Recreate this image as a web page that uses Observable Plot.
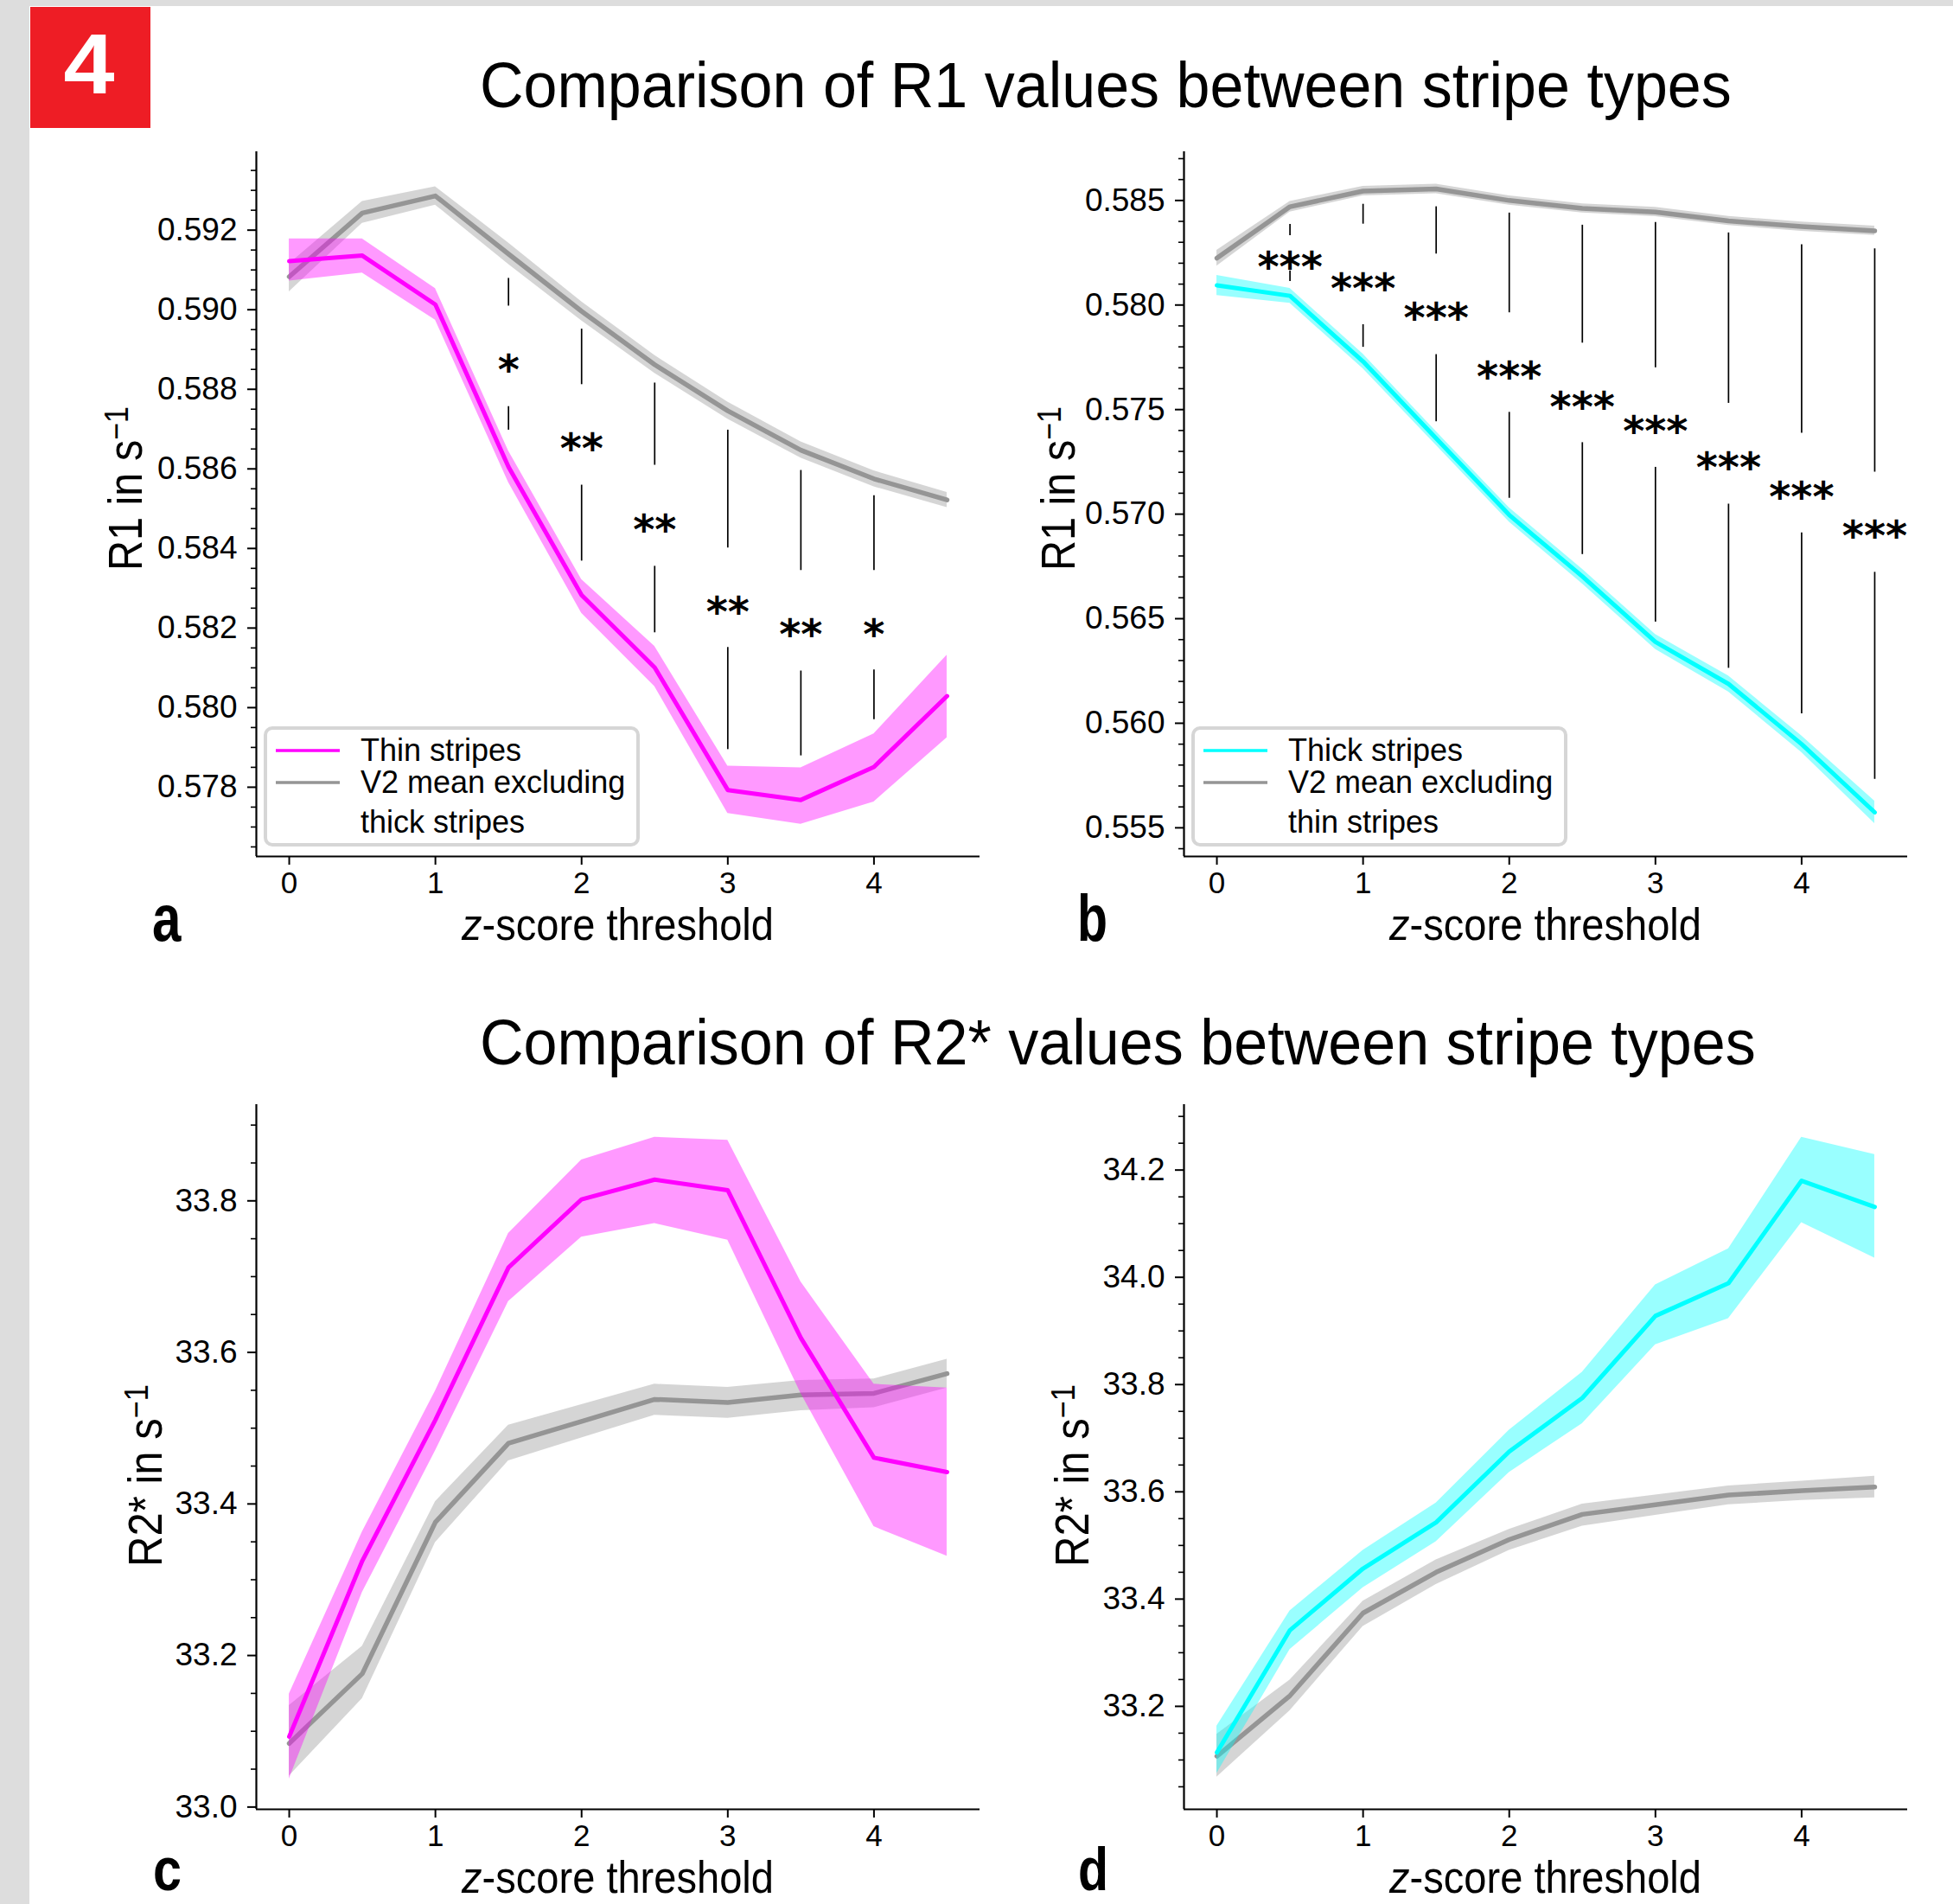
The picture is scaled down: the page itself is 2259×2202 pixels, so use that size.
<!DOCTYPE html>
<html><head><meta charset="utf-8">
<script src="https://cdn.jsdelivr.net/npm/d3@7"></script>
<script src="https://cdn.jsdelivr.net/npm/@observablehq/plot@0.6"></script>
<style>
html,body{margin:0;padding:0;background:#fff;}
#page{position:relative;width:2259px;height:2202px;overflow:hidden;background:#fff;}
.panel{position:absolute;}
.panel svg{max-width:none;}
#overlay{position:absolute;left:0;top:0;pointer-events:none;}
</style></head><body><div id="page"></div>
<script>
// ---------- data ----------
const zs = [0, 0.5, 1, 1.5, 2, 2.5, 3, 3.5, 4, 4.5];
const xTicks = [0, 1, 2, 3, 4];

// Panel a: R1, thin stripes vs V2 mean excluding thick stripes
const aThin   = [0.59122, 0.59136, 0.59013, 0.58605, 0.58283, 0.58101, 0.57793, 0.57768, 0.57851, 0.58029];
const aThinLo = [0.59072, 0.59092, 0.58974, 0.58566, 0.58237, 0.58053, 0.57734, 0.57707, 0.57763, 0.57924];
const aThinHi = [0.59178, 0.59178, 0.59053, 0.58645, 0.58322, 0.58154, 0.57853, 0.57849, 0.57934, 0.58132];
const aGray   = [0.59083, 0.59243, 0.59286, 0.59140, 0.58996, 0.58862, 0.58746, 0.58647, 0.58575, 0.58522];
const aGrayLo = [0.59045, 0.59217, 0.59263, 0.59114, 0.58972, 0.58840, 0.58725, 0.58627, 0.58555, 0.58503];
const aGrayHi = [0.59115, 0.59272, 0.59309, 0.59168, 0.59020, 0.58885, 0.58768, 0.58668, 0.58595, 0.58541];
const aSigZ      = [1.5, 2, 2.5, 3, 3.5, 4];
const aSigTop    = [0.590789, 0.589513, 0.588158, 0.586974, 0.585961, 0.585329];
const aSigGapTop = [0.590092, 0.588118, 0.586092, 0.584013, 0.583447, 0.583447];
const aSigGapBot = [0.587566, 0.585592, 0.583553, 0.581513, 0.580921, 0.580947];
const aSigBottom = [0.586974, 0.583684, 0.581882, 0.578947, 0.578789, 0.579697];
const aSigLabel  = ["*", "**", "**", "**", "**", "*"];
const aYTicks = [0.578, 0.580, 0.582, 0.584, 0.586, 0.588, 0.590, 0.592];

// Panel b: R1, thick stripes vs V2 mean excluding thin stripes
const bThick   = [0.58094, 0.58044, 0.57730, 0.57362, 0.56996, 0.56702, 0.56389, 0.56188, 0.55900, 0.55574];
const bThickLo = [0.58046, 0.58008, 0.57695, 0.57329, 0.56962, 0.56667, 0.56353, 0.56150, 0.55860, 0.55520];
const bThickHi = [0.58142, 0.58080, 0.57765, 0.57395, 0.57030, 0.56737, 0.56425, 0.56226, 0.55940, 0.55628];
const bGray    = [0.58224, 0.58470, 0.58545, 0.58555, 0.58500, 0.58462, 0.58445, 0.58402, 0.58375, 0.58355];
const bGrayLo  = [0.58186, 0.58445, 0.58522, 0.58532, 0.58478, 0.58440, 0.58423, 0.58380, 0.58353, 0.58333];
const bGrayHi  = [0.58262, 0.58495, 0.58568, 0.58578, 0.58522, 0.58484, 0.58467, 0.58424, 0.58397, 0.58377];
const bSigZ      = [0.5, 1, 1.5, 2, 2.5, 3, 3.5, 4, 4.5];
const bSigTop    = [0.58386, 0.58482, 0.58470, 0.58440, 0.58382, 0.58395, 0.58345, 0.58289, 0.58269];
const bSigGapTop = [0.58332, 0.58387, 0.58244, 0.57963, 0.57818, 0.57700, 0.57530, 0.57387, 0.57201];
const bSigGapBot = [0.58163, 0.57906, 0.57763, 0.57487, 0.57342, 0.57224, 0.57048, 0.56910, 0.56722];
const bSigBottom = [0.58113, 0.57798, 0.57442, 0.57076, 0.56807, 0.56484, 0.56263, 0.56045, 0.55732];
const bSigLabel  = ["***", "***", "***", "***", "***", "***", "***", "***", "***"];
const bYTicks = [0.555, 0.560, 0.565, 0.570, 0.575, 0.580, 0.585];

// Panel c: R2*, thin stripes vs V2 mean excluding thick stripes
const cThin   = [33.093, 33.325, 33.511, 33.712, 33.802, 33.828, 33.814, 33.619, 33.461, 33.442];
const cThinLo = [33.037, 33.283, 33.470, 33.667, 33.752, 33.770, 33.748, 33.546, 33.370, 33.331];
const cThinHi = [33.149, 33.363, 33.549, 33.757, 33.854, 33.884, 33.880, 33.693, 33.558, 33.553];
const cGray   = [33.084, 33.176, 33.376, 33.480, 33.509, 33.538, 33.534, 33.544, 33.546, 33.572];
const cGrayLo = [33.041, 33.143, 33.349, 33.457, 33.487, 33.517, 33.513, 33.523, 33.527, 33.553];
const cGrayHi = [33.134, 33.212, 33.403, 33.504, 33.531, 33.558, 33.554, 33.563, 33.565, 33.591];
const cYTicks = [33.0, 33.2, 33.4, 33.6, 33.8];

// Panel d: R2*, thick stripes vs V2 mean excluding thin stripes
const dThick   = [33.114, 33.342, 33.457, 33.543, 33.675, 33.775, 33.928, 33.989, 34.180, 34.131];
const dThickLo = [33.075, 33.306, 33.421, 33.507, 33.636, 33.727, 33.874, 33.923, 34.102, 34.036];
const dThickHi = [33.163, 33.378, 33.491, 33.579, 33.715, 33.823, 33.986, 34.053, 34.261, 34.229];
const dGray    = [33.107, 33.220, 33.374, 33.450, 33.511, 33.558, 33.576, 33.594, 33.602, 33.609];
const dGrayLo  = [33.068, 33.192, 33.349, 33.427, 33.491, 33.536, 33.556, 33.576, 33.584, 33.589];
const dGrayHi  = [33.148, 33.249, 33.396, 33.473, 33.530, 33.577, 33.594, 33.611, 33.620, 33.629];
const dYTicks = [33.2, 33.4, 33.6, 33.8, 34.0, 34.2];

// ---------- helpers ----------
const FONT = '"Liberation Sans", Arial, Helvetica, sans-serif';
const MAGENTA = "#ff00ff", CYAN = "#00ffff", GRAY = "#959595";
const page = document.getElementById("page");

function rowsOf(mean, lo, hi, gray, gLo, gHi) {
  return zs.map((z, i) => ({z, mean: mean[i], lo: lo[i], hi: hi[i], gray: gray[i], gLo: gLo[i], gHi: gHi[i]}));
}
function sigOf(z, top, gt, gb, bot, lab) {
  return z.map((v, i) => ({z: v, top: top[i], gt: gt[i], gb: gb[i], bot: bot[i], label: lab[i], mid: (gt[i] + gb[i]) / 2}));
}

function makePanel(cfg) {
  const {L, T, R, B, yDomain, majors, minorStep, fmt, color, rows, sig} = cfg;
  const mL = 150, mR = 70, mT = 30, mB = 60;
  const width = R - L + mL + mR, height = B - T + mT + mB;
  const k0 = Math.ceil(yDomain[0] / minorStep - 1e-9), k1 = Math.floor(yDomain[1] / minorStep + 1e-9);
  const minors = d3.range(k0, k1 + 1).map(k => +(k * minorStep).toFixed(6))
    .filter(v => !majors.some(m => Math.abs(m - v) < minorStep / 10));
  const xDomain = [-0.225, 4.725];
  const marks = [
    Plot.areaY(rows, {x: "z", y1: "gLo", y2: "gHi", fill: "#808080", fillOpacity: 0.33}),
    Plot.line(rows, {x: "z", y: "gray", stroke: GRAY, strokeWidth: 5.5}),
    Plot.areaY(rows, {x: "z", y1: "lo", y2: "hi", fill: color, fillOpacity: 0.4}),
    Plot.line(rows, {x: "z", y: "mean", stroke: color, strokeWidth: 5})
  ];
  if (sig) {
    marks.push(
      Plot.ruleX(sig, {x: "z", y1: "top", y2: "gt", stroke: "black", strokeWidth: 1.7}),
      Plot.ruleX(sig, {x: "z", y1: "gb", y2: "bot", stroke: "black", strokeWidth: 1.7}),
      Plot.text(sig, {x: "z", y: "mid", text: "label", fontFamily: '"DejaVu Sans", sans-serif', fontWeight: "bold", fontSize: 48, dy: 17, fill: "black"})
    );
  }
  marks.push(
    Plot.ruleX([xDomain[0]], {stroke: "black", strokeWidth: 2.2}),
    Plot.ruleY([yDomain[0]], {stroke: "black", strokeWidth: 2.2}),
    Plot.axisY(majors, {tickSize: 10, tickPadding: 12, tickFormat: fmt, strokeWidth: 2, label: null, fontSize: 37}),
    Plot.axisY(minors, {tickSize: 6, tickFormat: () => "", strokeWidth: 1.6, label: null}),
    Plot.axisX(xTicks, {tickSize: 10, tickPadding: 8, tickFormat: d3.format("d"), strokeWidth: 2, label: null, fontSize: 35})
  );
  const chart = Plot.plot({
    width, height, marginLeft: mL, marginRight: mR, marginTop: mT, marginBottom: mB,
    x: {domain: xDomain}, y: {domain: yDomain},
    style: {fontFamily: FONT, fontSize: "36px", background: "transparent", overflow: "visible", color: "black"},
    marks
  });
  const div = document.createElement("div");
  div.className = "panel";
  div.style.left = (L - mL) + "px";
  div.style.top = (T - mT) + "px";
  div.style.width = width + "px";
  div.style.height = height + "px";
  div.appendChild(chart);
  page.appendChild(div);
}

// ---------- panels ----------
makePanel({L: 296, T: 175, R: 1133, B: 990, yDomain: [0.57626, 0.59397], majors: aYTicks, minorStep: 0.0005,
  fmt: d3.format(".3f"), color: MAGENTA,
  rows: rowsOf(aThin, aThinLo, aThinHi, aGray, aGrayLo, aGrayHi),
  sig: sigOf(aSigZ, aSigTop, aSigGapTop, aSigGapBot, aSigBottom, aSigLabel)});
makePanel({L: 1369, T: 175, R: 2206, B: 990, yDomain: [0.55363, 0.58733], majors: bYTicks, minorStep: 0.001,
  fmt: d3.format(".3f"), color: CYAN,
  rows: rowsOf(bThick, bThickLo, bThickHi, bGray, bGrayLo, bGrayHi),
  sig: sigOf(bSigZ, bSigTop, bSigGapTop, bSigGapBot, bSigBottom, bSigLabel)});
makePanel({L: 296, T: 1277, R: 1133, B: 2092, yDomain: [32.997, 33.927], majors: cYTicks, minorStep: 0.05,
  fmt: d3.format(".1f"), color: MAGENTA,
  rows: rowsOf(cThin, cThinLo, cThinHi, cGray, cGrayLo, cGrayHi)});
makePanel({L: 1369, T: 1277, R: 2206, B: 2092, yDomain: [33.008, 34.322], majors: dYTicks, minorStep: 0.05,
  fmt: d3.format(".1f"), color: CYAN,
  rows: rowsOf(dThick, dThickLo, dThickHi, dGray, dGrayLo, dGrayHi)});

// ---------- overlay: frame, titles, labels, legends ----------
const svg = d3.create("svg").attr("id", "overlay").attr("width", 2259).attr("height", 2202);
page.appendChild(svg.node());

svg.append("rect").attr("x", 0).attr("y", 0).attr("width", 34).attr("height", 2202).attr("fill", "#dddddd");
svg.append("rect").attr("x", 0).attr("y", 0).attr("width", 2259).attr("height", 7).attr("fill", "#dddddd");
svg.append("rect").attr("x", 35).attr("y", 8).attr("width", 139).attr("height", 140).attr("fill", "#ee1d25");

function fitText(o) {
  const g = svg.append("g").attr("transform", `translate(${o.x},${o.y}) rotate(${o.rotate || 0})`);
  const inner = g.append("g");
  const t = inner.append("text")
    .attr("font-family", o.family || FONT).attr("font-size", o.size)
    .attr("font-weight", o.weight || "normal").attr("text-anchor", o.anchor || "start")
    .attr("fill", o.fill || "black");
  if (o.build) o.build(t); else t.text(o.str);
  if (o.width) {
    const w = t.node().getBBox().width;
    if (w > 0) inner.attr("transform", `scale(${o.width / w},1)`);
  }
  return g;
}

fitText({x: 103, y: 108, str: "4", size: 98, weight: "bold", fill: "white", anchor: "middle", width: 59});
fitText({x: 555, y: 124, str: "Comparison of R1 values between stripe types", size: 74, width: 1448});
fitText({x: 555, y: 1231, str: "Comparison of R2* values between stripe types", size: 74, width: 1476});

function yLabel(x, y, main, len) {
  fitText({x, y, size: 56, rotate: -90, width: len, build: t => {
    t.append("tspan").text(main);
    t.append("tspan").attr("dy", "-0.42em").attr("font-size", "0.7em").text("\u22121");
  }});
}
yLabel(164, 660, "R1 in s", 190);
yLabel(1243, 660, "R1 in s", 190);
yLabel(187, 1812, "R2* in s", 211);
yLabel(1259, 1812, "R2* in s", 211);

function xLabel(cx, y) {
  fitText({x: cx, y, size: 51, anchor: "middle", width: 362, build: t => {
    t.append("tspan").attr("font-style", "italic").text("z");
    t.append("tspan").text("-score threshold");
  }});
}
xLabel(714.5, 1087);
xLabel(1787.5, 1087);
xLabel(714.5, 2189);
xLabel(1787.5, 2189);

fitText({x: 176, y: 1088, str: "a", size: 76, weight: "bold", width: 34});
fitText({x: 1246, y: 1088, str: "b", size: 76, weight: "bold", width: 35});
fitText({x: 177, y: 2186, str: "c", size: 70, weight: "bold", width: 33});
fitText({x: 1247, y: 2186, str: "d", size: 70, weight: "bold", width: 35});

function legend(x0, y0, color, lab1, lab2a, lab2b) {
  svg.append("rect").attr("x", x0).attr("y", y0).attr("width", 431).attr("height", 135).attr("rx", 8)
    .attr("fill", "white").attr("stroke", "#d6d6d6").attr("stroke-width", 4);
  svg.append("line").attr("x1", x0 + 12).attr("x2", x0 + 86).attr("y1", y0 + 26).attr("y2", y0 + 26)
    .attr("stroke", color).attr("stroke-width", 3.5);
  svg.append("line").attr("x1", x0 + 12).attr("x2", x0 + 86).attr("y1", y0 + 63).attr("y2", y0 + 63)
    .attr("stroke", GRAY).attr("stroke-width", 3.5);
  fitText({x: x0 + 110, y: y0 + 38, str: lab1, size: 36});
  fitText({x: x0 + 110, y: y0 + 75, str: lab2a, size: 36});
  fitText({x: x0 + 110, y: y0 + 121, str: lab2b, size: 36});
}
legend(307, 842, MAGENTA, "Thin stripes", "V2 mean excluding", "thick stripes");
legend(1380, 842, CYAN, "Thick stripes", "V2 mean excluding", "thin stripes");
</script></body></html>
